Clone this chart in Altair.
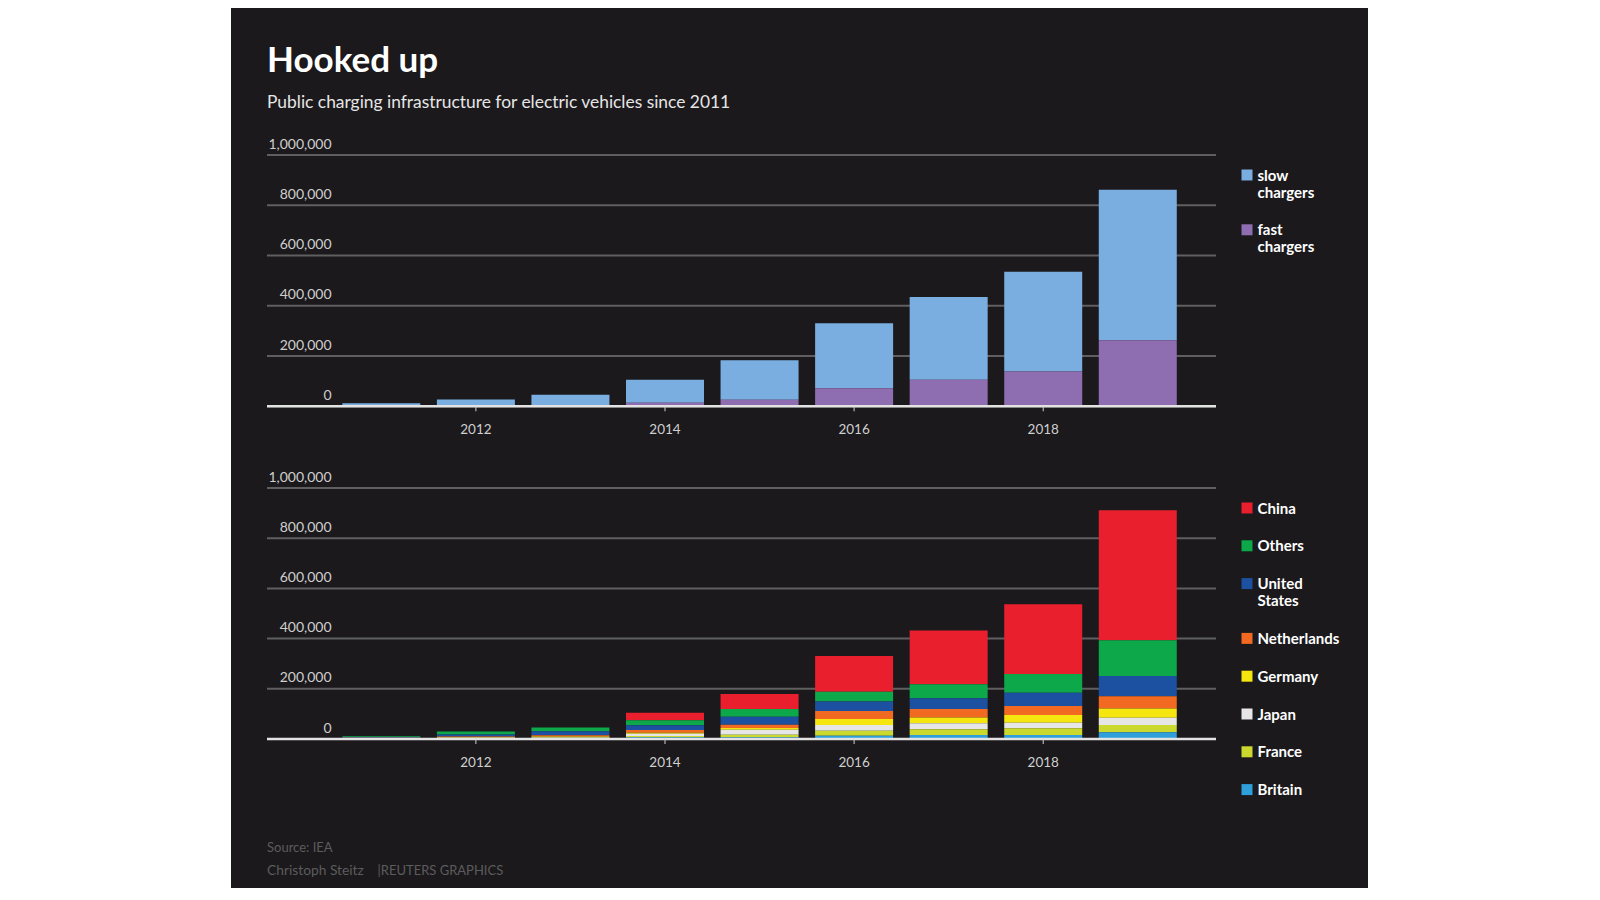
import altair as alt
import pandas as pd

# ---------------- data ----------------
YEARS = [2011, 2012, 2013, 2014, 2015, 2016, 2017, 2018, 2019]

TYPES = ["slow chargers", "fast chargers"]
SLOW = [12000, 26000, 44000, 92000, 157000, 259000, 329000, 397000, 599000]
FAST = [500, 1000, 2000, 14000, 26000, 72000, 106000, 139000, 263000]

COUNTRIES = ["China", "Others", "United States", "Netherlands", "Germany", "Japan", "France", "Britain"]
CHINA = [0, 0, 0, 30000, 60000, 143000, 214000, 278000, 518000]
OTHERS = [3000, 12000, 15000, 20000, 30500, 39000, 56000, 74000, 143000]
UNITED_STATES = [3500, 8000, 16000, 19000, 32000, 37000, 42500, 53000, 80000]
NETHERLANDS = [1500, 3500, 5800, 11000, 13000, 32000, 33500, 36000, 49000]
GERMANY = [1000, 2000, 2500, 4000, 6600, 24000, 23500, 30600, 37000]
JAPAN = [300, 1000, 2000, 9000, 20000, 23000, 24000, 22500, 29000]
FRANCE = [500, 1000, 2000, 5000, 10600, 20000, 22600, 26500, 29000]
BRITAIN = [1500, 2500, 3000, 7000, 6600, 13000, 16000, 16000, 26600]

Y_TICKS = [0, 200000, 400000, 600000, 800000, 1000000]
X_TICKS = [2012, 2014, 2016, 2018]

TITLE = "Hooked up"
SUBTITLE = "Public charging infrastructure for electric vehicles since 2011"
SOURCE = "Source: IEA"
AUTHOR = "Christoph Steitz"
CREDIT = "|REUTERS GRAPHICS"

# ---------------- styles / layout ----------------
FONT = "Lato"
PANEL = "#1b191c"
TYPE_COLORS = ["#7aaee0", "#8f6db1"]
COUNTRY_COLORS = ["#ea1f2e", "#0ca84a", "#1b51a0", "#f26a21", "#f5e60f", "#e6e6e6", "#cbd92e", "#2f9fdc"]
GRID = "#5f5f5f"
BASE = "#e3e3e3"
LABEL = "#cfcfcf"

X_DOMAIN = [2009.8437, 2019.7744]
X_RANGE = [36, 985]
TOP_RANGE = [398.3, 147.1]
BOT_RANGE = [731, 480]
SYM = "M-1,0.18H1V2.18H-1Z"

xscale = alt.Scale(domain=X_DOMAIN, range=X_RANGE, nice=False, zero=False)


def yscale(r):
    return alt.Scale(domain=[0, 1000000], range=r, nice=False, zero=False)


top_df = pd.DataFrame({
    "year": YEARS * 2,
    "type": [TYPES[0]] * len(YEARS) + [TYPES[1]] * len(YEARS),
    "value": SLOW + FAST,
    "rank": [1] * len(YEARS) + [0] * len(YEARS),
})

series = [CHINA, OTHERS, UNITED_STATES, NETHERLANDS, GERMANY, JAPAN, FRANCE, BRITAIN]
rows = []
for i, (c, vals) in enumerate(zip(COUNTRIES, series)):
    for y, v in zip(YEARS, vals):
        rows.append({"year": y, "country": c, "value": v, "rank": len(COUNTRIES) - 1 - i})
bot_df = pd.DataFrame(rows)

ticks_df = pd.DataFrame({"v": Y_TICKS})
xt_df = pd.DataFrame({"year": X_TICKS})
zero_df = pd.DataFrame({"v": [0]})


def legend(y):
    return alt.Legend(
        orient="none", legendX=1008.5, legendY=y, title=None,
        labelExpr="split(datum.label, ' ')",
        labelBaseline="top", labelFont=FONT, labelFontSize=15, labelFontWeight="bold",
        labelColor="#ffffff", labelOffset=3, labelLimit=200,
        symbolType=SYM, symbolSize=121, symbolStrokeWidth=0, symbolOpacity=1,
        rowPadding=14.8,
    )


def panel(df, field, domain, colors, yr, leg_y, xlab_y):
    ys = yscale(yr)
    grid = alt.Chart(ticks_df).mark_rule(color=GRID, strokeWidth=2).encode(
        y=alt.Y("v:Q", scale=ys, axis=None),
        x=alt.value(X_RANGE[0]),
        x2=alt.value(X_RANGE[1]),
    )
    ylabels = alt.Chart(ticks_df).mark_text(
        align="right", baseline="alphabetic", dy=-6.5, font=FONT, fontSize=14, color=LABEL
    ).encode(
        y=alt.Y("v:Q", scale=ys, axis=None),
        x=alt.value(100.6),
        text=alt.Text("v:Q", format=","),
    )
    bars = alt.Chart(df).mark_bar(size=78, strokeWidth=0).encode(
        x=alt.X("year:Q", scale=xscale, axis=None),
        y=alt.Y("value:Q", stack="zero", scale=ys, axis=None),
        color=alt.Color(f"{field}:N", scale=alt.Scale(domain=domain, range=colors), legend=legend(leg_y)),
        order=alt.Order("rank:Q"),
    )
    base = alt.Chart(zero_df).mark_rule(color=BASE, strokeWidth=2.5).encode(
        y=alt.Y("v:Q", scale=ys, axis=None),
        x=alt.value(X_RANGE[0]),
        x2=alt.value(X_RANGE[1]),
    )
    xticks = alt.Chart(xt_df).mark_rule(color=LABEL, strokeWidth=1).encode(
        x=alt.X("year:Q", scale=xscale, axis=None),
        y=alt.value(yr[0]),
        y2=alt.value(yr[0] + 5),
    )
    xlabels = alt.Chart(xt_df).mark_text(
        align="center", baseline="alphabetic", font=FONT, fontSize=13.5, color=LABEL
    ).encode(
        x=alt.X("year:Q", scale=xscale, axis=None),
        y=alt.value(xlab_y),
        text=alt.Text("year:Q", format="d"),
    )
    return alt.layer(grid, ylabels, bars, base, xticks, xlabels)


def text_layer(txt, x, y, size, color, weight="normal"):
    return alt.Chart(pd.DataFrame({"t": [txt]})).mark_text(
        align="left", baseline="alphabetic", font=FONT, fontSize=size, fontWeight=weight, color=color
    ).encode(x=alt.value(x), y=alt.value(y), text="t:N")


top = panel(top_df, "type", TYPES, TYPE_COLORS, TOP_RANGE, 153, 426.3)
bottom = panel(bot_df, "country", COUNTRIES, COUNTRY_COLORS, BOT_RANGE, 486, 759)

texts = alt.layer(
    text_layer(TITLE, 36, 64, 35, "#ffffff", "bold"),
    text_layer(SUBTITLE, 36, 100, 17.4, "#e6e6e6"),
    text_layer(SOURCE, 36, 844, 13, "#5c5c5c"),
    text_layer(AUTHOR, 36, 866.5, 13.8, "#5c5c5c"),
    text_layer(CREDIT, 146.5, 866.5, 13, "#5c5c5c"),
)

chart = alt.layer(top, bottom, texts).resolve_scale(
    y="independent", color="independent"
).properties(
    width=1137, height=880,
    padding={"left": 223, "top": 0, "right": 0, "bottom": 0},
    autosize=alt.AutoSizeParams(type="none"),
    background="#ffffff",
).configure_view(fill=PANEL, stroke=PANEL, strokeWidth=0)

chart.save("out.html", embed_options={"renderer": "svg", "actions": False})
